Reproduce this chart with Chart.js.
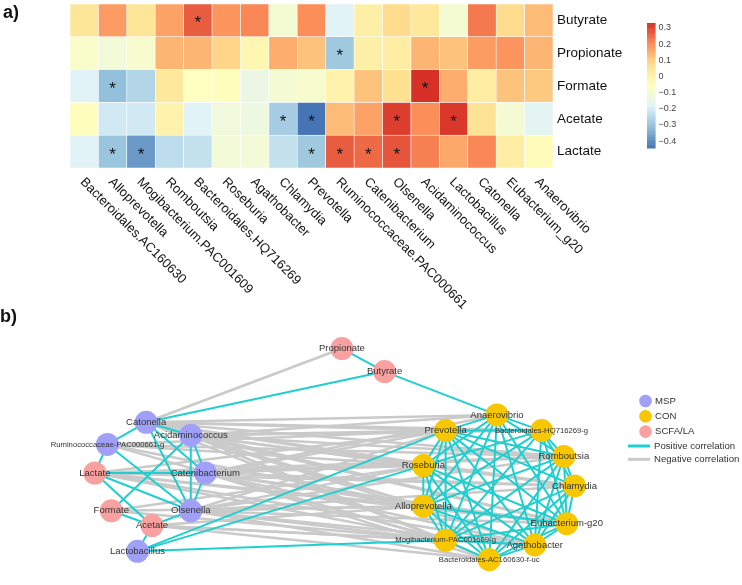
<!DOCTYPE html>
<html>
<head>
<meta charset="utf-8">
<script src="https://cdn.jsdelivr.net/npm/chart.js@4.4.0/dist/chart.umd.min.js"></script>
<style>
    html, body { margin: 0; padding: 0; background: #fff; }
    body { width: 742px; height: 585px; position: relative; overflow: hidden; font-family: "Liberation Sans", Arial, sans-serif; }
    .panel { position: absolute; font-weight: bold; font-size: 18px; line-height: 18px; color: #111; }
    #heat { position: absolute; left: 0; top: 0; }
    #net { position: absolute; left: 0; top: 290px; }
</style>
</head>
<body>

<canvas id="heat" width="742" height="330"></canvas>
<canvas id="net" width="742" height="295"></canvas>
<div class="panel" style="left:3px; top:3px">a)</div>
<div class="panel" style="left:0px; top:307px">b)</div>

<script>

    // ---- a) heatmap data ----
    const genera = ['Bacteroidales.AC160630', 'Alloprevotella', 'Mogibacterium.PAC001609', 'Romboutsia',
        'Bacteroidales.HQ716269', 'Roseburia', 'Agathobacter', 'Chlamydia', 'Prevotella',
        'Ruminococcaceae.PAC000661', 'Catenibacterium', 'Olsenella', 'Acidaminococcus', 'Lactobacillus',
        'Catonella', 'Eubacterium_g20', 'Anaerovibrio']

    const rowsTopDown = ['Butyrate', 'Propionate', 'Formate', 'Acetate', 'Lactate']

    const butyrate   = [0.05, 0.18, 0.05, 0.17, 0.27, 0.19, 0.21, -0.10, 0.20, -0.18, 0.01, 0.08, 0.04, -0.10, 0.23, 0.08, 0.13]
    const propionate = [-0.08, -0.11, -0.09, 0.14, 0.14, 0.09, -0.02, 0.15, 0.12, -0.29, 0.01, 0.02, 0.14, 0.12, 0.18, 0.19, 0.14]
    const formate    = [-0.18, -0.31, -0.26, 0.04, -0.06, -0.05, -0.14, -0.10, -0.09, 0.00, 0.12, 0.07, 0.331, 0.15, 0.02, 0.12, 0.11]
    const acetate    = [-0.05, -0.21, -0.21, 0.00, -0.18, -0.12, -0.13, -0.28, -0.443, 0.13, 0.17, 0.31, 0.20, 0.32, 0.06, -0.10, -0.17]
    const lactate    = [-0.18, -0.30, -0.38, -0.24, -0.23, -0.11, -0.11, -0.23, -0.29, 0.27, 0.25, 0.28, 0.22, 0.16, 0.21, 0.02, -0.04]

    // significant cells (genus indices) per row
    const sigButyrate   = [4]
    const sigPropionate = [9]
    const sigFormate    = [1, 12]
    const sigAcetate    = [7, 8, 11, 13]
    const sigLactate    = [1, 2, 8, 9, 10, 11]

    const colorTicks = [0.3, 0.2, 0.1, 0, -0.1, -0.2, -0.3, -0.4]
    const colorMin = -0.443
    const colorMax = 0.331
    const palette = ['#4575b4', '#91bfdb', '#e0f3f8', '#ffffbf', '#fee090', '#fc8d59', '#d73027']

    const rowValues = {Butyrate: butyrate, Propionate: propionate, Formate: formate, Acetate: acetate, Lactate: lactate}
    const rowSig = {Butyrate: sigButyrate, Propionate: sigPropionate, Formate: sigFormate, Acetate: sigAcetate, Lactate: sigLactate}

    function hexToRgb(h) {
        return [parseInt(h.slice(1, 3), 16), parseInt(h.slice(3, 5), 16), parseInt(h.slice(5, 7), 16)]
    }

    function valueColor(v) {
        let t = (v - colorMin) / (colorMax - colorMin)
        t = Math.max(0, Math.min(1, t)) * (palette.length - 1)
        const i = Math.min(Math.floor(t), palette.length - 2)
        const f = t - i
        const a = hexToRgb(palette[i]), b = hexToRgb(palette[i + 1])
        const c = a.map((x, k) => Math.round(x + (b[k] - x) * f))
        return `rgb(${c[0]},${c[1]},${c[2]})`
    }

    Chart.defaults.font.family = '"Liberation Sans", Arial, sans-serif'

    const rowsBottomUp = rowsTopDown.slice().reverse()

    const heatExtras = {
        id: 'heatExtras',
        afterDatasetsDraw(chart) {
            const ctx = chart.ctx
            // stars
            ctx.save()
            ctx.fillStyle = '#111'
            ctx.font = '17px "Liberation Sans", Arial, sans-serif'
            ctx.textAlign = 'center'
            ctx.textBaseline = 'alphabetic'
            chart.data.datasets.forEach((ds, di) => {
                const meta = chart.getDatasetMeta(di)
                rowSig[ds.label].forEach(gi => {
                    const bar = meta.data[gi]
                    const cy = (bar.y + bar.base) / 2
                    ctx.fillText('*', bar.x, cy + 8)
                })
            })
            ctx.restore()
        },
        afterDraw(chart) {
            const ctx = chart.ctx
            const xs = chart.scales.x
            // rotated genus labels
            ctx.save()
            ctx.fillStyle = '#111'
            ctx.font = '13px "Liberation Sans", Arial, sans-serif'
            ctx.textAlign = 'left'
            ctx.textBaseline = 'middle'
            genera.forEach((g, i) => {
                const x = xs.getPixelForValue(i)
                ctx.save()
                ctx.translate(x - 2, chart.chartArea.bottom + 12)
                ctx.rotate(Math.PI / 4)
                ctx.fillText(g, 0, 0)
                ctx.restore()
            })
            ctx.restore()

            // colour bar
            const barX = 647, barW = 8.5, barTop = 23, barBottom = 148
            const yOf = v => barTop + (colorMax - v) / (colorMax - colorMin) * (barBottom - barTop)
            ctx.save()
            const steps = 100
            for (let s = 0; s < steps; s++) {
                const v0 = colorMax - (colorMax - colorMin) * s / steps
                const v1 = colorMax - (colorMax - colorMin) * (s + 1) / steps
                ctx.fillStyle = valueColor((v0 + v1) / 2)
                ctx.fillRect(barX, yOf(v0), barW, yOf(v1) - yOf(v0) + 0.5)
            }
            ctx.fillStyle = '#444'
            ctx.font = '9px "Liberation Sans", Arial, sans-serif'
            ctx.textAlign = 'left'
            ctx.textBaseline = 'middle'
            colorTicks.forEach(v => {
                const txt = v < 0 ? '\u2212' + Math.abs(v).toFixed(1) : (v === 0 ? '0' : v.toFixed(1))
                ctx.fillText(txt, barX + barW + 3, yOf(v))
            })
            ctx.restore()
        }
    }

    new Chart(document.getElementById('heat'), {
        type: 'bar',
        data: {
            labels: genera,
            datasets: rowsBottomUp.map(row => ({
                label: row,
                data: genera.map(() => 1),
                backgroundColor: rowValues[row].map(valueColor),
                borderColor: '#ffffff',
                borderWidth: 0.6,
                borderSkipped: false,
                barPercentage: 1,
                categoryPercentage: 1
            }))
        },
        options: {
            responsive: false,
            animation: false,
            events: [],
            layout: {padding: {left: 70, top: 4, right: 0, bottom: 162}},
            plugins: {legend: {display: false}, tooltip: {enabled: false}},
            scales: {
                x: {stacked: true, display: false},
                y: {
                    stacked: true,
                    position: 'right',
                    min: 0,
                    max: rowsBottomUp.length,
                    grid: {display: false, drawTicks: false},
                    border: {display: false},
                    afterBuildTicks: s => { s.ticks = rowsBottomUp.map((r, i) => ({value: i + 0.5})) },
                    afterFit: s => {
                        s.width = 189
                        s.paddingTop = 0
                        s.paddingBottom = 0
                    },
                    ticks: {
                        padding: 4,
                        color: '#111',
                        font: {size: 13.5},
                        callback: v => rowsBottomUp[Math.floor(v)]
                    }
                }
            }
        },
        plugins: [heatExtras]
    })

    // ---- b) network data ----
    const nodeNames = ['Propionate', 'Butyrate', 'Lactate', 'Formate', 'Acetate',
        'Catonella', 'Acidaminococcus', 'Ruminococcaceae-PAC000661-g', 'Catenibacterium', 'Olsenella', 'Lactobacillus',
        'Anaerovibrio', 'Prevotella', 'Bacteroidales-HQ716269-g', 'Romboutsia', 'Roseburia', 'Chlamydia',
        'Alloprevotella', 'Eubacterium-g20', 'Mogibacterium-PAC001609-g', 'Agathobacter', 'Bacteroidales-AC160630-f-uc']
    const nodeGroup = ['SCFA/LA', 'SCFA/LA', 'SCFA/LA', 'SCFA/LA', 'SCFA/LA',
        'MSP', 'MSP', 'MSP', 'MSP', 'MSP', 'MSP',
        'CON', 'CON', 'CON', 'CON', 'CON', 'CON', 'CON', 'CON', 'CON', 'CON', 'CON']
    // layout positions
    const nodeX = [341, 385, 86, 103, 145, 139, 185, 99, 200, 185, 130, 501, 448, 547, 570, 425, 581, 425, 573, 448, 540, 493]
    const nodeY = [341, 366, 476, 517, 533, 421, 435, 445, 476, 517, 561, 413, 430, 430, 458, 468, 490, 512, 531, 549, 554, 570]

    const groups = ['MSP', 'CON', 'SCFA/LA']
    const groupColors = ['#a0a0f8', '#f8c700', '#f9a1a1']
    const edgeLabels = ['Positive correlation', 'Negative correlation']
    const edgeColors = ['#1fcfcf', '#cacaca']

    const positiveEdges = [
        ['Propionate', 'Butyrate'], ['Butyrate', 'Catonella'], ['Butyrate', 'Anaerovibrio'],
        ['Catonella', 'Ruminococcaceae-PAC000661-g'], ['Catonella', 'Acidaminococcus'], ['Catonella', 'Olsenella'],
        ['Catonella', 'Catenibacterium'], ['Acidaminococcus', 'Catenibacterium'], ['Acidaminococcus', 'Olsenella'],
        ['Acidaminococcus', 'Formate'], ['Ruminococcaceae-PAC000661-g', 'Lactate'], ['Ruminococcaceae-PAC000661-g', 'Olsenella'],
        ['Lactate', 'Catenibacterium'], ['Lactate', 'Olsenella'], ['Lactate', 'Acetate'], ['Formate', 'Acetate'],
        ['Acetate', 'Olsenella'], ['Catenibacterium', 'Olsenella'], ['Acetate', 'Lactobacillus'],
        ['Lactobacillus', 'Prevotella'], ['Lactobacillus', 'Roseburia'], ['Lactobacillus', 'Mogibacterium-PAC001609-g'],
        ['Anaerovibrio', 'Prevotella'], ['Anaerovibrio', 'Bacteroidales-HQ716269-g'], ['Anaerovibrio', 'Romboutsia'],
        ['Anaerovibrio', 'Roseburia'], ['Anaerovibrio', 'Alloprevotella'], ['Anaerovibrio', 'Eubacterium-g20'],
        ['Anaerovibrio', 'Mogibacterium-PAC001609-g'], ['Anaerovibrio', 'Agathobacter'], ['Anaerovibrio', 'Bacteroidales-AC160630-f-uc'],
        ['Prevotella', 'Bacteroidales-HQ716269-g'], ['Prevotella', 'Romboutsia'], ['Prevotella', 'Roseburia'],
        ['Prevotella', 'Chlamydia'], ['Prevotella', 'Alloprevotella'], ['Prevotella', 'Eubacterium-g20'],
        ['Prevotella', 'Mogibacterium-PAC001609-g'], ['Prevotella', 'Agathobacter'], ['Prevotella', 'Bacteroidales-AC160630-f-uc'],
        ['Bacteroidales-HQ716269-g', 'Romboutsia'], ['Bacteroidales-HQ716269-g', 'Roseburia'], ['Bacteroidales-HQ716269-g', 'Chlamydia'],
        ['Bacteroidales-HQ716269-g', 'Alloprevotella'], ['Bacteroidales-HQ716269-g', 'Eubacterium-g20'],
        ['Bacteroidales-HQ716269-g', 'Mogibacterium-PAC001609-g'], ['Bacteroidales-HQ716269-g', 'Agathobacter'],
        ['Romboutsia', 'Chlamydia'], ['Romboutsia', 'Alloprevotella'], ['Romboutsia', 'Eubacterium-g20'],
        ['Romboutsia', 'Mogibacterium-PAC001609-g'], ['Romboutsia', 'Agathobacter'], ['Romboutsia', 'Bacteroidales-AC160630-f-uc'],
        ['Roseburia', 'Alloprevotella'], ['Roseburia', 'Eubacterium-g20'], ['Roseburia', 'Mogibacterium-PAC001609-g'],
        ['Roseburia', 'Agathobacter'], ['Roseburia', 'Bacteroidales-AC160630-f-uc'],
        ['Chlamydia', 'Eubacterium-g20'], ['Chlamydia', 'Mogibacterium-PAC001609-g'], ['Chlamydia', 'Agathobacter'],
        ['Chlamydia', 'Bacteroidales-AC160630-f-uc'],
        ['Alloprevotella', 'Eubacterium-g20'], ['Alloprevotella', 'Mogibacterium-PAC001609-g'], ['Alloprevotella', 'Agathobacter'],
        ['Alloprevotella', 'Bacteroidales-AC160630-f-uc'],
        ['Eubacterium-g20', 'Mogibacterium-PAC001609-g'], ['Eubacterium-g20', 'Agathobacter'], ['Eubacterium-g20', 'Bacteroidales-AC160630-f-uc'],
        ['Mogibacterium-PAC001609-g', 'Agathobacter'], ['Mogibacterium-PAC001609-g', 'Bacteroidales-AC160630-f-uc'],
        ['Agathobacter', 'Bacteroidales-AC160630-f-uc']
    ]

    const negativeEdges = [
        ['Propionate', 'Catonella'],
        ['Catonella', 'Anaerovibrio'], ['Catonella', 'Prevotella'], ['Catonella', 'Bacteroidales-HQ716269-g'],
        ['Catonella', 'Romboutsia'], ['Catonella', 'Roseburia'], ['Catonella', 'Chlamydia'], ['Catonella', 'Alloprevotella'],
        ['Catonella', 'Eubacterium-g20'], ['Catonella', 'Agathobacter'], ['Catonella', 'Mogibacterium-PAC001609-g'],
        ['Acidaminococcus', 'Anaerovibrio'], ['Acidaminococcus', 'Prevotella'], ['Acidaminococcus', 'Bacteroidales-HQ716269-g'],
        ['Acidaminococcus', 'Romboutsia'], ['Acidaminococcus', 'Roseburia'], ['Acidaminococcus', 'Chlamydia'],
        ['Acidaminococcus', 'Alloprevotella'], ['Acidaminococcus', 'Eubacterium-g20'], ['Acidaminococcus', 'Mogibacterium-PAC001609-g'],
        ['Acidaminococcus', 'Bacteroidales-AC160630-f-uc'],
        ['Ruminococcaceae-PAC000661-g', 'Prevotella'], ['Ruminococcaceae-PAC000661-g', 'Roseburia'],
        ['Ruminococcaceae-PAC000661-g', 'Alloprevotella'], ['Ruminococcaceae-PAC000661-g', 'Mogibacterium-PAC001609-g'],
        ['Ruminococcaceae-PAC000661-g', 'Romboutsia'],
        ['Lactate', 'Prevotella'], ['Lactate', 'Roseburia'], ['Lactate', 'Romboutsia'], ['Lactate', 'Chlamydia'],
        ['Lactate', 'Alloprevotella'], ['Lactate', 'Eubacterium-g20'], ['Lactate', 'Mogibacterium-PAC001609-g'], ['Lactate', 'Agathobacter'],
        ['Catenibacterium', 'Anaerovibrio'], ['Catenibacterium', 'Prevotella'], ['Catenibacterium', 'Roseburia'],
        ['Catenibacterium', 'Romboutsia'], ['Catenibacterium', 'Chlamydia'], ['Catenibacterium', 'Alloprevotella'],
        ['Catenibacterium', 'Eubacterium-g20'], ['Catenibacterium', 'Agathobacter'], ['Catenibacterium', 'Mogibacterium-PAC001609-g'],
        ['Catenibacterium', 'Bacteroidales-AC160630-f-uc'],
        ['Olsenella', 'Prevotella'], ['Olsenella', 'Roseburia'], ['Olsenella', 'Alloprevotella'], ['Olsenella', 'Romboutsia'],
        ['Olsenella', 'Chlamydia'], ['Olsenella', 'Eubacterium-g20'], ['Olsenella', 'Agathobacter'],
        ['Olsenella', 'Mogibacterium-PAC001609-g'], ['Olsenella', 'Bacteroidales-AC160630-f-uc'],
        ['Formate', 'Roseburia'], ['Formate', 'Alloprevotella'], ['Formate', 'Mogibacterium-PAC001609-g'],
        ['Acetate', 'Alloprevotella'], ['Acetate', 'Mogibacterium-PAC001609-g'], ['Acetate', 'Agathobacter'],
        ['Acetate', 'Bacteroidales-AC160630-f-uc']
    ]

    const nodePoint = name => {
        const i = nodeNames.indexOf(name)
        return {x: nodeX[i], y: nodeY[i]}
    }

    const edgeDataset = (pair, color, width, order) => ({
        data: [nodePoint(pair[0]), nodePoint(pair[1])],
        showLine: true,
        borderColor: color,
        borderWidth: width,
        pointRadius: 0,
        clip: false,
        order: order
    })

    const netDatasets = [
        ...negativeEdges.map(p => edgeDataset(p, edgeColors[1], 2.5, 2)),
        ...positiveEdges.map(p => edgeDataset(p, edgeColors[0], 2, 1)),
        ...groups.map((g, gi) => ({
            label: g,
            data: nodeNames.filter((n, i) => nodeGroup[i] === g).map(nodePoint),
            pointRadius: 11.5,
            pointBackgroundColor: groupColors[gi],
            pointBorderWidth: 0,
            showLine: false,
            clip: false,
            order: 0
        }))
    ]

    const netExtras = {
        id: 'netExtras',
        afterDatasetsDraw(chart) {
            const ctx = chart.ctx
            const xs = chart.scales.x, ys = chart.scales.y
            ctx.save()
            ctx.fillStyle = '#333'
            ctx.textAlign = 'center'
            ctx.textBaseline = 'middle'
            nodeNames.forEach((n, i) => {
                ctx.font = (n.length > 20 ? '7.7px' : '9.5px') + ' "Liberation Sans", Arial, sans-serif'
                ctx.fillText(n, xs.getPixelForValue(nodeX[i]), ys.getPixelForValue(nodeY[i]))
            })
            ctx.restore()

            // legend
            ctx.save()
            ctx.font = '9.6px "Liberation Sans", Arial, sans-serif'
            ctx.textAlign = 'left'
            ctx.textBaseline = 'middle'
            groups.forEach((g, gi) => {
                const y = 111 + gi * 15.3
                ctx.fillStyle = groupColors[gi]
                ctx.beginPath()
                ctx.arc(645.5, y, 6.3, 0, Math.PI * 2)
                ctx.fill()
                ctx.fillStyle = '#333'
                ctx.fillText(g, 655, y)
            })
            edgeLabels.forEach((l, li) => {
                const y = 156 + li * 13.3
                ctx.strokeStyle = edgeColors[li]
                ctx.lineWidth = 3
                ctx.beginPath()
                ctx.moveTo(628, y)
                ctx.lineTo(650, y)
                ctx.stroke()
                ctx.fillStyle = '#333'
                ctx.fillText(l, 654, y)
            })
            ctx.restore()
        }
    }

    new Chart(document.getElementById('net'), {
        type: 'scatter',
        data: {datasets: netDatasets},
        options: {
            responsive: false,
            animation: false,
            events: [],
            layout: {padding: 0},
            plugins: {legend: {display: false}, tooltip: {enabled: false}},
            scales: {
                x: {type: 'linear', min: 0, max: 742, display: false},
                y: {type: 'linear', min: 290, max: 585, reverse: true, display: false}
            }
        },
        plugins: [netExtras]
    })

</script>
</body>
</html>
